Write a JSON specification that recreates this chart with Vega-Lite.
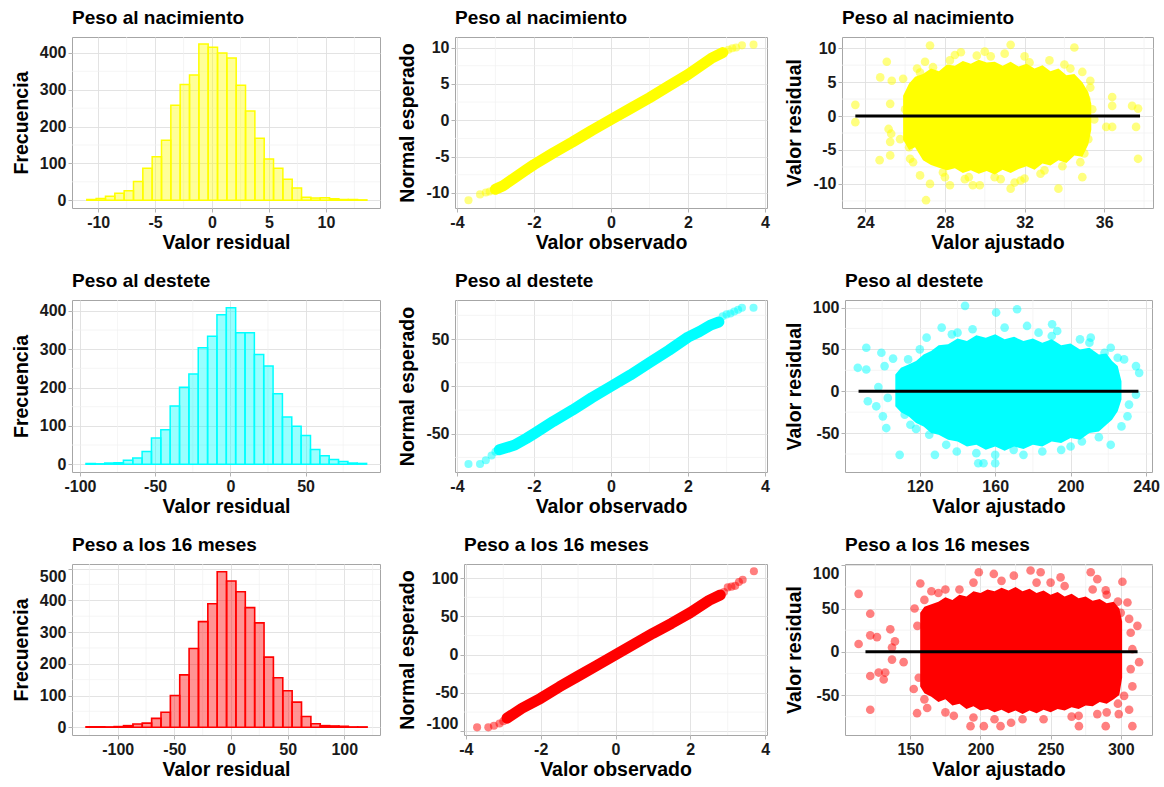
{
"$schema": "https://vega.github.io/schema/vega-lite/v6.json",
"padding": {"left": 10, "top": 8, "right": 5, "bottom": 5},
"background": "white",
"config": {
  "locale": {"number": {"decimal": ".", "thousands": ",", "grouping": [3], "currency": ["$", ""], "minus": "-"}},
  "font": "Liberation Sans",
  "view": {"stroke": "#A6A6A6", "strokeWidth": 1},
  "axis": {"domain": false, "labelFont": "Liberation Sans", "labelFontSize": 16, "labelFontWeight": "bold", "labelColor": "#1A1A1A", "titleFont": "Liberation Sans", "titleFontSize": 19.5, "titleFontWeight": "bold", "titleColor": "#000000", "tickColor": "#B3B3B3", "tickSize": 4, "labelPadding": 2, "labelOverlap": false, "labelFlush": false, "gridColor": "#E0E0E0", "gridWidth": 0.9, "format": "d"},
  "axisX": {"titlePadding": 3, "labelOverlap": false},
  "axisY": {"titlePadding": 8, "labelOverlap": false, "labelFlush": 5},
  "rule": {"color": "#F0F0F0", "strokeWidth": 0.7},
  "title": {"font": "Liberation Sans", "fontSize": 19, "fontWeight": "bold", "anchor": "start", "frame": "group", "color": "#000000", "offset": 9}
},
"datasets": {
  "h1": [
    {"a": -11.0, "b": -10.18, "n": 2}, {"a": -10.18, "b": -9.36, "n": 5}, {"a": -9.36, "b": -8.54, "n": 11}, {"a": -8.54, "b": -7.72, "n": 19}, {"a": -7.72, "b": -6.9, "n": 26}, {"a": -6.9, "b": -6.08, "n": 51}, {"a": -6.08, "b": -5.26, "n": 87}, {"a": -5.26, "b": -4.44, "n": 118}, {"a": -4.44, "b": -3.62, "n": 163}, {"a": -3.62, "b": -2.8, "n": 258},
    {"a": -2.8, "b": -1.98, "n": 314}, {"a": -1.98, "b": -1.16, "n": 340}, {"a": -1.16, "b": -0.34, "n": 424}, {"a": -0.34, "b": 0.48, "n": 415}, {"a": 0.48, "b": 1.3, "n": 400}, {"a": 1.3, "b": 2.12, "n": 386}, {"a": 2.12, "b": 2.94, "n": 312}, {"a": 2.94, "b": 3.76, "n": 242}, {"a": 3.76, "b": 4.58, "n": 168}, {"a": 4.58, "b": 5.4, "n": 112},
    {"a": 5.4, "b": 6.22, "n": 87}, {"a": 6.22, "b": 7.04, "n": 57}, {"a": 7.04, "b": 7.86, "n": 33}, {"a": 7.86, "b": 8.68, "n": 8}, {"a": 8.68, "b": 9.5, "n": 6}, {"a": 9.5, "b": 10.32, "n": 7}, {"a": 10.32, "b": 11.14, "n": 4}, {"a": 11.14, "b": 11.96, "n": 2}, {"a": 11.96, "b": 12.78, "n": 2}, {"a": 12.78, "b": 13.6, "n": 1}
  ],
  "h2": [
    {"a": -96, "b": -89.78, "n": 2}, {"a": -89.78, "b": -83.56, "n": 1}, {"a": -83.56, "b": -77.34, "n": 3}, {"a": -77.34, "b": -71.12, "n": 4}, {"a": -71.12, "b": -64.9, "n": 10}, {"a": -64.9, "b": -58.68, "n": 16}, {"a": -58.68, "b": -52.46, "n": 33}, {"a": -52.46, "b": -46.24, "n": 68}, {"a": -46.24, "b": -40.02, "n": 90}, {"a": -40.02, "b": -33.8, "n": 152},
    {"a": -33.8, "b": -27.58, "n": 201}, {"a": -27.58, "b": -21.36, "n": 235}, {"a": -21.36, "b": -15.14, "n": 304}, {"a": -15.14, "b": -8.92, "n": 334}, {"a": -8.92, "b": -2.7, "n": 390}, {"a": -2.7, "b": 3.52, "n": 408}, {"a": 3.52, "b": 9.74, "n": 343}, {"a": 9.74, "b": 15.96, "n": 343}, {"a": 15.96, "b": 22.18, "n": 286}, {"a": 22.18, "b": 28.4, "n": 256},
    {"a": 28.4, "b": 34.62, "n": 184}, {"a": 34.62, "b": 40.84, "n": 123}, {"a": 40.84, "b": 47.06, "n": 99}, {"a": 47.06, "b": 53.28, "n": 75}, {"a": 53.28, "b": 59.5, "n": 38}, {"a": 59.5, "b": 65.72, "n": 22}, {"a": 65.72, "b": 71.94, "n": 12}, {"a": 71.94, "b": 78.16, "n": 7}, {"a": 78.16, "b": 84.38, "n": 3}, {"a": 84.38, "b": 90.6, "n": 2}
  ],
  "h3": [
    {"a": -128, "b": -119.73, "n": 1}, {"a": -119.73, "b": -111.46, "n": 1}, {"a": -111.46, "b": -103.19, "n": 1}, {"a": -103.19, "b": -94.92, "n": 2}, {"a": -94.92, "b": -86.65, "n": 5}, {"a": -86.65, "b": -78.38, "n": 10}, {"a": -78.38, "b": -70.11, "n": 13}, {"a": -70.11, "b": -61.84, "n": 28}, {"a": -61.84, "b": -53.57, "n": 47}, {"a": -53.57, "b": -45.3, "n": 100},
    {"a": -45.3, "b": -37.03, "n": 165}, {"a": -37.03, "b": -28.76, "n": 248}, {"a": -28.76, "b": -20.49, "n": 333}, {"a": -20.49, "b": -12.22, "n": 389}, {"a": -12.22, "b": -3.95, "n": 490}, {"a": -3.95, "b": 4.32, "n": 461}, {"a": 4.32, "b": 12.59, "n": 427}, {"a": 12.59, "b": 20.86, "n": 377}, {"a": 20.86, "b": 29.13, "n": 329}, {"a": 29.13, "b": 37.4, "n": 221},
    {"a": 37.4, "b": 45.67, "n": 156}, {"a": 45.67, "b": 53.94, "n": 115}, {"a": 53.94, "b": 62.21, "n": 79}, {"a": 62.21, "b": 70.48, "n": 34}, {"a": 70.48, "b": 78.75, "n": 11}, {"a": 78.75, "b": 87.02, "n": 5}, {"a": 87.02, "b": 95.29, "n": 4}, {"a": 95.29, "b": 103.56, "n": 3}, {"a": 103.56, "b": 111.83, "n": 1}, {"a": 111.83, "b": 120.1, "n": 1}
  ],
  "mh1x": [{"v": -7.5}, {"v": -2.5}, {"v": 2.5}, {"v": 7.5}, {"v": 12.5}],
  "mh2x": [{"v": -75}, {"v": -25}, {"v": 25}, {"v": 75}],
  "mh3x": [{"v": -125}, {"v": -75}, {"v": -25}, {"v": 25}, {"v": 75}, {"v": 125}],
  "m50": [{"v": 50}, {"v": 150}, {"v": 250}, {"v": 350}],
  "m50b": [{"v": 50}, {"v": 150}, {"v": 250}, {"v": 350}, {"v": 450}],
  "mq": [{"v": -3}, {"v": -1}, {"v": 1}, {"v": 3}],
  "mq1y": [{"v": -7.5}, {"v": -2.5}, {"v": 2.5}, {"v": 7.5}],
  "m75": [{"v": -75}, {"v": -25}, {"v": 25}, {"v": 75}],
  "ms1x": [{"v": 26}, {"v": 30}, {"v": 34}, {"v": 38}],
  "ms1y": [{"v": -12.5}, {"v": -7.5}, {"v": -2.5}, {"v": 2.5}, {"v": 7.5}],
  "ms2x": [{"v": 100}, {"v": 140}, {"v": 180}, {"v": 220}],
  "ms3x": [{"v": 125}, {"v": 175}, {"v": 225}, {"v": 275}],
  "q1l": [{"x": -3.0, "y": -9.5}, {"x": -2.8, "y": -9.0}, {"x": -2.5, "y": -7.9}, {"x": -2.2, "y": -6.8}, {"x": -2.0, "y": -6.1}, {"x": -1.5, "y": -4.5}, {"x": -1.0, "y": -3.0}, {"x": -0.5, "y": -1.4}, {"x": 0, "y": 0.1}, {"x": 0.5, "y": 1.6}, {"x": 1.0, "y": 3.1}, {"x": 1.5, "y": 4.7}, {"x": 2.0, "y": 6.3}, {"x": 2.3, "y": 7.4}, {"x": 2.6, "y": 8.5}, {"x": 2.9, "y": 9.3}],
  "q1p": [{"x": -3.7, "y": -11.0}, {"x": -3.4, "y": -10.2}, {"x": -3.25, "y": -9.95}, {"x": -3.15, "y": -9.8}, {"x": -3.05, "y": -9.6}, {"x": 2.95, "y": 9.4}, {"x": 3.05, "y": 9.7}, {"x": 3.15, "y": 9.9}, {"x": 3.25, "y": 10.0}, {"x": 3.4, "y": 10.3}, {"x": 3.7, "y": 10.4}],
  "q2l": [{"x": -2.9, "y": -67}, {"x": -2.5, "y": -62}, {"x": -2.2, "y": -55}, {"x": -2.0, "y": -50}, {"x": -1.5, "y": -37}, {"x": -1.0, "y": -25}, {"x": -0.5, "y": -12}, {"x": 0, "y": 0}, {"x": 0.5, "y": 12}, {"x": 1.0, "y": 25}, {"x": 1.5, "y": 38}, {"x": 2.0, "y": 52}, {"x": 2.3, "y": 58}, {"x": 2.6, "y": 65}, {"x": 2.8, "y": 68}],
  "q2p": [{"x": -3.7, "y": -82}, {"x": -3.4, "y": -82}, {"x": -3.25, "y": -78}, {"x": -3.1, "y": -73}, {"x": -3.0, "y": -69}, {"x": 2.9, "y": 74}, {"x": 3.0, "y": 76}, {"x": 3.1, "y": 77}, {"x": 3.2, "y": 79}, {"x": 3.3, "y": 81}, {"x": 3.4, "y": 83}, {"x": 3.7, "y": 83}],
  "q3l": [{"x": -2.9, "y": -83}, {"x": -2.5, "y": -70}, {"x": -2.0, "y": -57}, {"x": -1.5, "y": -42}, {"x": -1.0, "y": -28}, {"x": -0.5, "y": -14}, {"x": 0, "y": 0}, {"x": 0.5, "y": 14}, {"x": 1.0, "y": 28}, {"x": 1.5, "y": 41}, {"x": 2.0, "y": 55}, {"x": 2.5, "y": 71}, {"x": 2.8, "y": 78}],
  "q3p": [{"x": -3.7, "y": -95}, {"x": -3.4, "y": -95}, {"x": -3.25, "y": -93}, {"x": -3.1, "y": -90}, {"x": -3.0, "y": -87}, {"x": 2.9, "y": 82}, {"x": 3.0, "y": 88}, {"x": 3.1, "y": 89}, {"x": 3.2, "y": 90}, {"x": 3.3, "y": 95}, {"x": 3.4, "y": 98}, {"x": 3.7, "y": 109}],
  "s1c": [{"x": 25.9, "lo": -3.5, "hi": 3.0}, {"x": 26.2, "lo": -5.0, "hi": 4.8}, {"x": 26.5, "lo": -4.6, "hi": 5.8}, {"x": 26.9, "lo": -6.5, "hi": 6.2}, {"x": 27.3, "lo": -7.2, "hi": 7.0}, {"x": 27.7, "lo": -7.6, "hi": 6.6}, {"x": 28.1, "lo": -8.0, "hi": 7.6}, {"x": 28.5, "lo": -7.7, "hi": 7.4}, {"x": 28.9, "lo": -8.4, "hi": 8.1}, {"x": 29.3, "lo": -8.0, "hi": 7.7}, {"x": 29.7, "lo": -8.5, "hi": 8.3}, {"x": 30.1, "lo": -8.1, "hi": 7.9}, {"x": 30.5, "lo": -8.6, "hi": 8.0}, {"x": 30.9, "lo": -7.9, "hi": 7.4}, {"x": 31.3, "lo": -8.4, "hi": 8.0}, {"x": 31.7, "lo": -7.8, "hi": 7.3}, {"x": 32.1, "lo": -7.4, "hi": 7.7}, {"x": 32.5, "lo": -7.9, "hi": 7.0}, {"x": 32.9, "lo": -7.0, "hi": 7.5}, {"x": 33.3, "lo": -7.3, "hi": 6.6}, {"x": 33.7, "lo": -6.5, "hi": 7.0}, {"x": 34.1, "lo": -6.9, "hi": 6.0}, {"x": 34.5, "lo": -5.8, "hi": 6.2}, {"x": 34.9, "lo": -6.0, "hi": 5.0}, {"x": 35.2, "lo": -4.2, "hi": 3.5}, {"x": 35.35, "lo": -2.0, "hi": 1.8}],
  "s1p": [{"x": 23.5, "y": 1.65}, {"x": 23.5, "y": -0.9}, {"x": 24.72, "y": -6.5}, {"x": 24.75, "y": 5.7}, {"x": 25.08, "y": 8.0}, {"x": 25.33, "y": 5.2}, {"x": 25.25, "y": 1.8}, {"x": 25.17, "y": -1.9}, {"x": 25.25, "y": -3.8}, {"x": 25.25, "y": -5.8}, {"x": 25.3, "y": -2.6}, {"x": 26.25, "y": -6.3}, {"x": 26.75, "y": -8.75}, {"x": 27.25, "y": -10}, {"x": 27.05, "y": -12.4}, {"x": 27.25, "y": 10.4}, {"x": 28.25, "y": -10.2}, {"x": 29.4, "y": -10.2}, {"x": 29.75, "y": -10.2}, {"x": 28.8, "y": 9.4}, {"x": 29.6, "y": 8.9}, {"x": 31.3, "y": 10.5}, {"x": 31.3, "y": -10.7}, {"x": 31.5, "y": -9.8}, {"x": 30.8, "y": -9.3}, {"x": 33.7, "y": -10.7}, {"x": 34.5, "y": 10.1}, {"x": 34.9, "y": 6.5}, {"x": 35.3, "y": 5.2}, {"x": 34.8, "y": -6.8}, {"x": 34.9, "y": -9.0}, {"x": 36.1, "y": -1.6}, {"x": 36.4, "y": 2.8}, {"x": 36.4, "y": 1.5}, {"x": 36.4, "y": -1.6}, {"x": 37.4, "y": 1.5}, {"x": 37.7, "y": 1.1}, {"x": 37.6, "y": -1.6}, {"x": 37.7, "y": -6.3}, {"x": 33.25, "y": 8.2}, {"x": 32.25, "y": 7.9}, {"x": 28.25, "y": 8.2}, {"x": 27.4, "y": 7.2}, {"x": 26.75, "y": 6.4}, {"x": 25.9, "y": 5.5}, {"x": 25.75, "y": -3.4}, {"x": 35.1, "y": 2.5}, {"x": 35.2, "y": -3.4}, {"x": 31.0, "y": 9.2}, {"x": 30.3, "y": 8.8}, {"x": 33.9, "y": -7.4}, {"x": 27.9, "y": -8.3}, {"x": 26.2, "y": -4.6}, {"x": 34.3, "y": 7.0}, {"x": 32.8, "y": -8.5}, {"x": 29.0, "y": -9.3}, {"x": 35.5, "y": -0.5}, {"x": 35.4, "y": 1.0}, {"x": 26.0, "y": 1.0}, {"x": 27.0, "y": 8.0}, {"x": 28.0, "y": -9.0}, {"x": 30.0, "y": 9.5}, {"x": 30.5, "y": -9.0}, {"x": 32.0, "y": 8.8}, {"x": 32.0, "y": -9.2}, {"x": 33.0, "y": -8.0}, {"x": 34.0, "y": 7.6}, {"x": 29.2, "y": -9.0}, {"x": 26.4, "y": -6.8}, {"x": 26.6, "y": 7.0}, {"x": 35.0, "y": -5.5}, {"x": 35.3, "y": 4.2}, {"x": 28.5, "y": 9.0}, {"x": 31.8, "y": -9.5}],
  "s1f": [{"x": 23.5, "y": 0}, {"x": 37.8, "y": 0}],
  "s2c": [{"x": 107, "lo": -18, "hi": 20}, {"x": 110, "lo": -25, "hi": 28}, {"x": 114, "lo": -30, "hi": 32}, {"x": 118, "lo": -38, "hi": 36}, {"x": 122, "lo": -42, "hi": 44}, {"x": 126, "lo": -50, "hi": 48}, {"x": 130, "lo": -52, "hi": 55}, {"x": 135, "lo": -58, "hi": 56}, {"x": 140, "lo": -60, "hi": 63}, {"x": 145, "lo": -66, "hi": 60}, {"x": 150, "lo": -64, "hi": 67}, {"x": 155, "lo": -70, "hi": 64}, {"x": 160, "lo": -66, "hi": 68}, {"x": 165, "lo": -71, "hi": 62}, {"x": 170, "lo": -66, "hi": 65}, {"x": 175, "lo": -69, "hi": 60}, {"x": 180, "lo": -64, "hi": 63}, {"x": 185, "lo": -66, "hi": 58}, {"x": 190, "lo": -60, "hi": 62}, {"x": 195, "lo": -62, "hi": 55}, {"x": 200, "lo": -56, "hi": 57}, {"x": 205, "lo": -58, "hi": 50}, {"x": 210, "lo": -50, "hi": 52}, {"x": 215, "lo": -48, "hi": 44}, {"x": 219, "lo": -40, "hi": 45}, {"x": 222, "lo": -34, "hi": 36}, {"x": 225, "lo": -24, "hi": 30}, {"x": 227, "lo": -10, "hi": 12}],
  "s2p": [{"x": 87.1, "y": 28}, {"x": 91.6, "y": 52}, {"x": 91.6, "y": 26}, {"x": 92.4, "y": -12}, {"x": 96.9, "y": -18}, {"x": 99.6, "y": 46}, {"x": 100.4, "y": -30}, {"x": 102.2, "y": -44}, {"x": 101.3, "y": 30}, {"x": 105.8, "y": 39}, {"x": 98, "y": 5}, {"x": 103, "y": -8}, {"x": 109.3, "y": -76}, {"x": 128, "y": -76}, {"x": 131.6, "y": 76}, {"x": 144, "y": 102}, {"x": 160.5, "y": 94}, {"x": 171.6, "y": 98}, {"x": 151, "y": -86}, {"x": 153.8, "y": -86}, {"x": 160, "y": -86}, {"x": 176.9, "y": 78}, {"x": 190.2, "y": 80}, {"x": 192.9, "y": 72}, {"x": 200, "y": -66}, {"x": 221.3, "y": -64}, {"x": 221.3, "y": 52}, {"x": 228.4, "y": 38}, {"x": 234.7, "y": 30}, {"x": 236.4, "y": 22}, {"x": 231, "y": -16}, {"x": 230.2, "y": -30}, {"x": 234.7, "y": -4}, {"x": 210.7, "y": 64}, {"x": 123.6, "y": 64}, {"x": 113.8, "y": 38}, {"x": 139.6, "y": -72}, {"x": 169.8, "y": -70}, {"x": 185, "y": -72}, {"x": 112, "y": -28}, {"x": 118, "y": -45}, {"x": 125, "y": -52}, {"x": 227, "y": -42}, {"x": 218, "y": 46}, {"x": 206, "y": -60}, {"x": 148, "y": 74}, {"x": 183, "y": 70}, {"x": 134, "y": -64}, {"x": 115, "y": -40}, {"x": 120, "y": 50}, {"x": 137, "y": 68}, {"x": 150, "y": -74}, {"x": 165, "y": 76}, {"x": 175, "y": -76}, {"x": 195, "y": -70}, {"x": 205, "y": 62}, {"x": 215, "y": -55}, {"x": 225, "y": 40}, {"x": 190, "y": 66}, {"x": 160, "y": -76}, {"x": 140, "y": 70}, {"x": 210, "y": 58}],
  "s2f": [{"x": 87.5, "y": 0}, {"x": 236, "y": 0}],
  "s3c": [{"x": 157, "lo": -40, "hi": 45}, {"x": 160, "lo": -48, "hi": 52}, {"x": 165, "lo": -52, "hi": 55}, {"x": 170, "lo": -58, "hi": 58}, {"x": 175, "lo": -55, "hi": 63}, {"x": 180, "lo": -62, "hi": 60}, {"x": 185, "lo": -60, "hi": 66}, {"x": 190, "lo": -66, "hi": 64}, {"x": 195, "lo": -63, "hi": 70}, {"x": 200, "lo": -68, "hi": 68}, {"x": 205, "lo": -66, "hi": 72}, {"x": 210, "lo": -70, "hi": 70}, {"x": 215, "lo": -67, "hi": 74}, {"x": 220, "lo": -71, "hi": 71}, {"x": 225, "lo": -68, "hi": 75}, {"x": 230, "lo": -72, "hi": 70}, {"x": 235, "lo": -68, "hi": 73}, {"x": 240, "lo": -71, "hi": 68}, {"x": 245, "lo": -67, "hi": 71}, {"x": 250, "lo": -70, "hi": 66}, {"x": 255, "lo": -66, "hi": 69}, {"x": 260, "lo": -68, "hi": 64}, {"x": 265, "lo": -64, "hi": 67}, {"x": 270, "lo": -66, "hi": 62}, {"x": 275, "lo": -62, "hi": 64}, {"x": 280, "lo": -63, "hi": 59}, {"x": 285, "lo": -58, "hi": 61}, {"x": 290, "lo": -60, "hi": 56}, {"x": 295, "lo": -55, "hi": 58}, {"x": 299, "lo": -50, "hi": 50}, {"x": 301, "lo": -30, "hi": 35}],
  "s3p": [{"x": 113.1, "y": 67}, {"x": 113.1, "y": 9}, {"x": 121.4, "y": 44}, {"x": 121.4, "y": 19}, {"x": 121.4, "y": -28}, {"x": 121.4, "y": -67}, {"x": 126.2, "y": 17}, {"x": 127.4, "y": -24}, {"x": 131, "y": -32}, {"x": 132.1, "y": -24}, {"x": 135.7, "y": 26}, {"x": 136.9, "y": -9}, {"x": 136.9, "y": 5}, {"x": 139, "y": 12}, {"x": 145.2, "y": -12}, {"x": 157.1, "y": 79}, {"x": 152.4, "y": -43}, {"x": 154.8, "y": -71}, {"x": 162, "y": -65}, {"x": 181, "y": -74}, {"x": 192.9, "y": -86}, {"x": 202.4, "y": -86}, {"x": 214.3, "y": -86}, {"x": 221.8, "y": -82}, {"x": 198.8, "y": 92}, {"x": 209.5, "y": 90}, {"x": 223.8, "y": 88}, {"x": 235.7, "y": 94}, {"x": 242.9, "y": 92}, {"x": 257.1, "y": 86}, {"x": 278.6, "y": 92}, {"x": 283.3, "y": 84}, {"x": 289.3, "y": 71}, {"x": 301.2, "y": 81}, {"x": 270.2, "y": -86}, {"x": 289.3, "y": -86}, {"x": 283.3, "y": -72}, {"x": 298.6, "y": -72}, {"x": 304.8, "y": 57}, {"x": 306, "y": 38}, {"x": 307.1, "y": 22}, {"x": 308.3, "y": 3}, {"x": 307.1, "y": -20}, {"x": 308.3, "y": -40}, {"x": 306, "y": -67}, {"x": 308.3, "y": -86}, {"x": 311.9, "y": 30}, {"x": 313.1, "y": -12}, {"x": 302.4, "y": -51}, {"x": 153, "y": 50}, {"x": 155, "y": 30}, {"x": 156, "y": -30}, {"x": 185, "y": 72}, {"x": 250, "y": 80}, {"x": 265, "y": -75}, {"x": 230, "y": -78}, {"x": 170, "y": 68}, {"x": 300, "y": 45}, {"x": 165, "y": 70}, {"x": 175, "y": 72}, {"x": 195, "y": 80}, {"x": 215, "y": 82}, {"x": 240, "y": 80}, {"x": 260, "y": 76}, {"x": 280, "y": 72}, {"x": 290, "y": 66}, {"x": 175, "y": -70}, {"x": 195, "y": -76}, {"x": 210, "y": -78}, {"x": 245, "y": -78}, {"x": 270, "y": -74}, {"x": 290, "y": -70}, {"x": 160, "y": 60}, {"x": 160, "y": -55}, {"x": 298, "y": 58}, {"x": 298, "y": -60}],
  "s3f": [{"x": 118, "y": 0}, {"x": 312, "y": 0}]
},
"vconcat": [
  {"hconcat": [
    {"width": 308, "height": 171, "title": "Peso al nacimiento",
     "layer": [
       {"data": {"name": "mh1x"}, "mark": "rule", "encoding": {"x": {"field": "v", "type": "quantitative", "title": "Valor residual"}}},
       {"data": {"name": "m50"}, "mark": "rule", "encoding": {"y": {"field": "v", "type": "quantitative", "title": "Frecuencia"}}},
       {"data": {"name": "h1"}, "mark": {"type": "rect", "fill": "#FFFF00", "fillOpacity": 0.4, "stroke": "#FFFF00", "strokeWidth": 1.5},
        "encoding": {
          "x": {"field": "a", "type": "quantitative", "scale": {"domain": [-12.3, 14.75], "nice": false, "zero": false}, "axis": {"title": "Valor residual", "values": [-10, -5, 0, 5, 10]}},
          "x2": {"field": "b"},
          "y": {"field": "n", "type": "quantitative", "scale": {"domain": [-21.1, 443.1], "nice": false, "zero": false}, "axis": {"title": "Frecuencia", "values": [0, 100, 200, 300, 400]}},
          "y2": {"datum": 0}
        }}
     ]},
    {"width": 312, "height": 171, "title": "Peso al nacimiento",
     "layer": [
       {"data": {"name": "mq"}, "mark": "rule", "encoding": {"x": {"field": "v", "type": "quantitative", "title": "Valor observado"}}},
       {"data": {"name": "mq1y"}, "mark": "rule", "encoding": {"y": {"field": "v", "type": "quantitative", "title": "Normal esperado"}}},
       {"data": {"name": "q1l"}, "mark": {"type": "line", "color": "#FFFF00", "strokeWidth": 11, "strokeCap": "round", "strokeJoin": "round"},
        "encoding": {
          "x": {"field": "x", "type": "quantitative", "scale": {"domain": [-4.05, 4.05], "nice": false, "zero": false}, "axis": {"title": "Valor observado", "values": [-4, -2, 0, 2, 4]}},
          "y": {"field": "y", "type": "quantitative", "scale": {"domain": [-12.07, 11.45], "nice": false, "zero": false}, "axis": {"title": "Normal esperado", "values": [-10, -5, 0, 5, 10]}}
        }},
       {"data": {"name": "q1p"}, "mark": {"type": "circle", "color": "#FFFF00", "opacity": 0.5, "size": 65},
        "encoding": {"x": {"field": "x", "type": "quantitative"}, "y": {"field": "y", "type": "quantitative"}}}
     ]},
    {"width": 311, "height": 171, "title": "Peso al nacimiento",
     "layer": [
       {"data": {"name": "ms1x"}, "mark": "rule", "encoding": {"x": {"field": "v", "type": "quantitative", "title": "Valor ajustado"}}},
       {"data": {"name": "ms1y"}, "mark": "rule", "encoding": {"y": {"field": "v", "type": "quantitative", "title": "Valor residual"}}},
       {"data": {"name": "s1c"}, "mark": {"type": "area", "color": "#FFFF00", "opacity": 1},
        "encoding": {
          "x": {"field": "x", "type": "quantitative", "scale": {"domain": [22.83, 38.45], "nice": false, "zero": false}, "axis": {"title": "Valor ajustado", "values": [24, 28, 32, 36]}},
          "y": {"field": "lo", "type": "quantitative", "scale": {"domain": [-13.55, 11.65], "nice": false, "zero": false}, "axis": {"title": "Valor residual", "values": [-10, -5, 0, 5, 10]}},
          "y2": {"field": "hi"}
        }},
       {"data": {"name": "s1p"}, "mark": {"type": "circle", "color": "#FFFF00", "opacity": 0.5, "size": 75},
        "encoding": {"x": {"field": "x", "type": "quantitative"}, "y": {"field": "y", "type": "quantitative"}}},
       {"data": {"name": "s1f"}, "mark": {"type": "line", "color": "#000000", "strokeWidth": 3},
        "encoding": {"x": {"field": "x", "type": "quantitative"}, "y": {"field": "y", "type": "quantitative"}}}
     ]}
  ], "spacing": 75, "bounds": "flush"},
  {"hconcat": [
    {"width": 308, "height": 172, "title": "Peso al destete",
     "layer": [
       {"data": {"name": "mh2x"}, "mark": "rule", "encoding": {"x": {"field": "v", "type": "quantitative", "title": "Valor residual"}}},
       {"data": {"name": "m50"}, "mark": "rule", "encoding": {"y": {"field": "v", "type": "quantitative", "title": "Frecuencia"}}},
       {"data": {"name": "h2"}, "mark": {"type": "rect", "fill": "#00FFFF", "fillOpacity": 0.4, "stroke": "#00FFFF", "strokeWidth": 1.5},
        "encoding": {
          "x": {"field": "a", "type": "quantitative", "scale": {"domain": [-105.3, 99.5], "nice": false, "zero": false}, "axis": {"title": "Valor residual", "values": [-100, -50, 0, 50]}},
          "x2": {"field": "b"},
          "y": {"field": "n", "type": "quantitative", "scale": {"domain": [-20.4, 428.4], "nice": false, "zero": false}, "axis": {"title": "Frecuencia", "values": [0, 100, 200, 300, 400]}},
          "y2": {"datum": 0}
        }}
     ]},
    {"hconcat": [
      {"width": 312, "height": 172, "title": "Peso al destete",
       "layer": [
         {"data": {"name": "mq"}, "mark": "rule", "encoding": {"x": {"field": "v", "type": "quantitative", "title": "Valor observado"}}},
         {"data": {"name": "m75"}, "mark": "rule", "encoding": {"y": {"field": "v", "type": "quantitative", "title": "Normal esperado"}}},
         {"data": {"name": "q2l"}, "mark": {"type": "line", "color": "#00FFFF", "strokeWidth": 11, "strokeCap": "round", "strokeJoin": "round"},
          "encoding": {
            "x": {"field": "x", "type": "quantitative", "scale": {"domain": [-4.05, 4.05], "nice": false, "zero": false}, "axis": {"title": "Valor observado", "values": [-4, -2, 0, 2, 4]}},
            "y": {"field": "y", "type": "quantitative", "scale": {"domain": [-90.4, 91.2], "nice": false, "zero": false}, "axis": {"title": "Normal esperado", "values": [-50, 0, 50]}}
          }},
         {"data": {"name": "q2p"}, "mark": {"type": "circle", "color": "#00FFFF", "opacity": 0.5, "size": 65},
          "encoding": {"x": {"field": "x", "type": "quantitative"}, "y": {"field": "y", "type": "quantitative"}}}
       ]},
      {"width": 307, "height": 172, "title": "Peso al destete",
       "layer": [
         {"data": {"name": "ms2x"}, "mark": "rule", "encoding": {"x": {"field": "v", "type": "quantitative", "title": "Valor ajustado"}}},
         {"data": {"name": "m75"}, "mark": "rule", "encoding": {"y": {"field": "v", "type": "quantitative", "title": "Valor residual"}}},
         {"data": {"name": "s2c"}, "mark": {"type": "area", "color": "#00FFFF", "opacity": 1},
          "encoding": {
            "x": {"field": "x", "type": "quantitative", "scale": {"domain": [80.3, 243.2], "nice": false, "zero": false}, "axis": {"title": "Valor ajustado", "values": [120, 160, 200, 240]}},
            "y": {"field": "lo", "type": "quantitative", "scale": {"domain": [-96.5, 109], "nice": false, "zero": false}, "axis": {"title": "Valor residual", "values": [-50, 0, 50, 100]}},
            "y2": {"field": "hi"}
          }},
         {"data": {"name": "s2p"}, "mark": {"type": "circle", "color": "#00FFFF", "opacity": 0.5, "size": 75},
          "encoding": {"x": {"field": "x", "type": "quantitative"}, "y": {"field": "y", "type": "quantitative"}}},
         {"data": {"name": "s2f"}, "mark": {"type": "line", "color": "#000000", "strokeWidth": 3},
          "encoding": {"x": {"field": "x", "type": "quantitative"}, "y": {"field": "y", "type": "quantitative"}}}
       ]}
    ], "spacing": 78, "bounds": "flush"}
  ], "spacing": 75, "bounds": "flush"},
  {"hconcat": [
    {"width": 308, "height": 171, "title": "Peso a los 16 meses",
     "layer": [
       {"data": {"name": "mh3x"}, "mark": "rule", "encoding": {"x": {"field": "v", "type": "quantitative", "title": "Valor residual"}}},
       {"data": {"name": "m50b"}, "mark": "rule", "encoding": {"y": {"field": "v", "type": "quantitative", "title": "Frecuencia", "axis": {"title": "Frecuencia", "values": [0, 100, 200, 300, 400, 500], "tickCount": 6, "labelOverlap": false, "labelFlush": 5}}}},
       {"data": {"name": "h3"}, "mark": {"type": "rect", "fill": "#FF0000", "fillOpacity": 0.42, "stroke": "#FF0000", "strokeWidth": 1.6},
        "encoding": {
          "x": {"field": "a", "type": "quantitative", "scale": {"domain": [-140.4, 131.5], "nice": false, "zero": false}, "axis": {"title": "Valor residual", "values": [-100, -50, 0, 50, 100]}},
          "x2": {"field": "b"},
          "y": {"field": "n", "type": "quantitative", "scale": {"domain": [-24.5, 514.5], "nice": false, "zero": false}, "axis": {"title": "Frecuencia", "values": [0, 100, 200, 300, 400, 500], "tickCount": 6, "labelOverlap": false, "labelFlush": 5}},
          "y2": {"datum": 0}
        }}
     ]},
    {"hconcat": [
      {"width": 303, "height": 171, "title": "Peso a los 16 meses",
       "layer": [
         {"data": {"name": "mq"}, "mark": "rule", "encoding": {"x": {"field": "v", "type": "quantitative", "title": "Valor observado"}}},
         {"data": {"name": "m75"}, "mark": "rule", "encoding": {"y": {"field": "v", "type": "quantitative", "title": "Normal esperado"}}},
         {"data": {"name": "q3l"}, "mark": {"type": "line", "color": "#FF0000", "strokeWidth": 11, "strokeCap": "round", "strokeJoin": "round"},
          "encoding": {
            "x": {"field": "x", "type": "quantitative", "scale": {"domain": [-4.05, 4.05], "nice": false, "zero": false}, "axis": {"title": "Valor observado", "values": [-4, -2, 0, 2, 4]}},
            "y": {"field": "y", "type": "quantitative", "scale": {"domain": [-105, 118.6], "nice": false, "zero": false}, "axis": {"title": "Normal esperado", "values": [-100, -50, 0, 50, 100]}}
          }},
         {"data": {"name": "q3p"}, "mark": {"type": "circle", "color": "#FF0000", "opacity": 0.5, "size": 65},
          "encoding": {"x": {"field": "x", "type": "quantitative"}, "y": {"field": "y", "type": "quantitative"}}}
       ]},
      {"width": 307, "height": 171, "title": "Peso a los 16 meses",
       "layer": [
         {"data": {"name": "ms3x"}, "mark": "rule", "encoding": {"x": {"field": "v", "type": "quantitative", "title": "Valor ajustado"}}},
         {"data": {"name": "m75"}, "mark": "rule", "encoding": {"y": {"field": "v", "type": "quantitative", "title": "Valor residual"}}},
         {"data": {"name": "s3c"}, "mark": {"type": "area", "color": "#FF0000", "opacity": 1},
          "encoding": {
            "x": {"field": "x", "type": "quantitative", "scale": {"domain": [103.4, 322.3], "nice": false, "zero": false}, "axis": {"title": "Valor ajustado", "values": [150, 200, 250, 300]}},
            "y": {"field": "lo", "type": "quantitative", "scale": {"domain": [-96.2, 101.5], "nice": false, "zero": false}, "axis": {"title": "Valor residual", "values": [-50, 0, 50, 100], "labelFlush": 5}},
            "y2": {"field": "hi"}
          }},
         {"data": {"name": "s3p"}, "mark": {"type": "circle", "color": "#FF0000", "opacity": 0.5, "size": 75},
          "encoding": {"x": {"field": "x", "type": "quantitative"}, "y": {"field": "y", "type": "quantitative"}}},
         {"data": {"name": "s3f"}, "mark": {"type": "line", "color": "#000000", "strokeWidth": 3},
          "encoding": {"x": {"field": "x", "type": "quantitative"}, "y": {"field": "y", "type": "quantitative"}}}
       ]}
    ], "spacing": 78, "bounds": "flush"}
  ], "spacing": 84, "bounds": "flush"}
],
"spacing": 19
}
